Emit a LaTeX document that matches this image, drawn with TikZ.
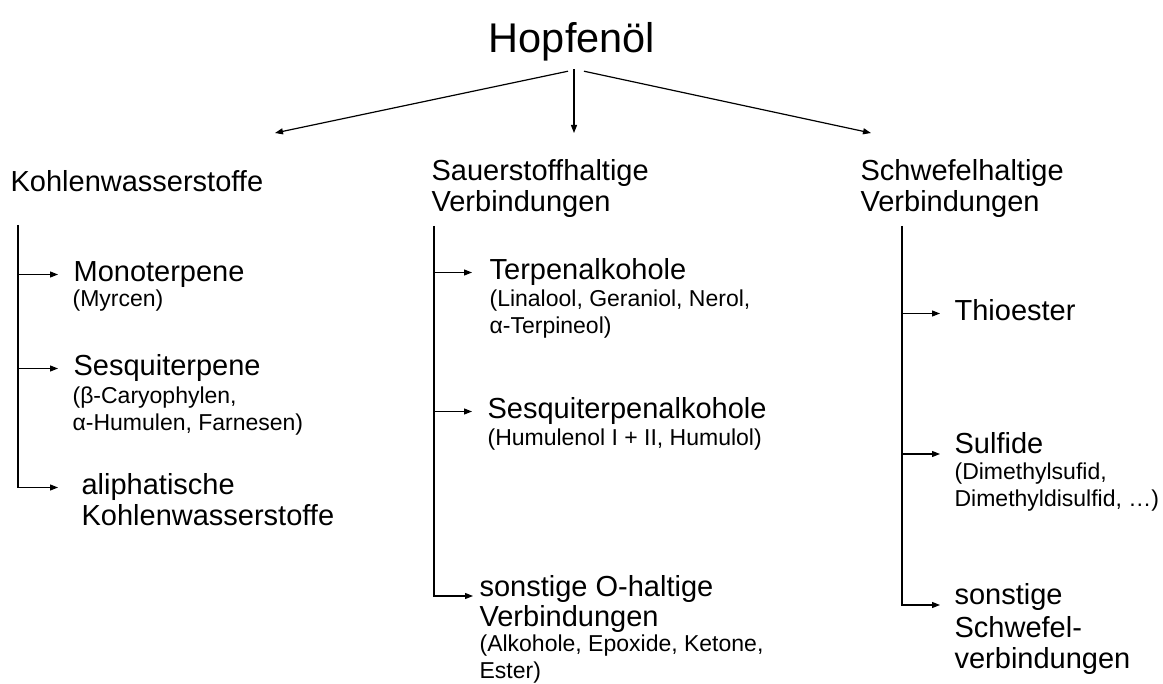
\documentclass[tikz,border=0pt]{standalone}
\usepackage{fontspec}
\setmainfont{Liberation Sans}
\usetikzlibrary{arrows.meta}

\begin{document}
\begin{tikzpicture}[x=1pt, y=-1pt, line width=1.2pt, >={Triangle[length=8pt,width=6pt]},
  title/.style={font=\fontsize{41.5}{48}\selectfont, anchor=base, inner xsep=0pt, inner ysep=7pt},
  head/.style={font=\fontsize{29}{31}\selectfont, inner sep=0pt, align=left},
  item/.style={font=\fontsize{29}{31}\selectfont, anchor=base west, inner ysep=0pt, inner xsep=15pt, text height=21pt, text depth=6pt},
  more/.style={font=\fontsize{29}{31}\selectfont, anchor=base west, inner sep=0pt},
  note/.style={font=\fontsize{23}{27}\selectfont, anchor=north west, inner sep=0pt, align=left}]
\useasboundingbox (0,0) rectangle (1163,684);

\node[title] (hopf) at (572,53) {Hopfenöl};
\coordinate (kwin) at (275,133);
\coordinate (soin) at (574,133);
\coordinate (swin) at (871,133);
\draw[->] ([xshift=-4pt,yshift=-2pt]hopf.south) -- (kwin);
\draw[->] ([xshift=2pt]hopf.south) -- (soin);
\draw[->] ([xshift=12pt,yshift=-2pt]hopf.south) -- (swin);

\node[head, anchor=base west] (kw) at (10,192) {Kohlenwasserstoffe};
\node[head, anchor=north west] (so) at (431,159) {Sauerstoffhaltige\\Verbindungen};
\node[head, anchor=north west] (sw) at (860,159) {Schwefelhaltige\\Verbindungen};

\coordinate (kt) at (18,225);
\coordinate (st) at (434,226);
\coordinate (wt) at (902,226);

\node[item] (mono) at (58,282) {Monoterpene};
\node[note] (monon) at (72,289) {(Myrcen)};
\node[item] (sesq) at (58,376) {Sesquiterpene};
\node[note] (sesqn) at (72,386) {(β-Caryophylen,\\α-Humulen, Farnesen)};
\node[item, inner xsep=23pt] (ali) at (58,495) {aliphatische};
\node[more] (ali2) at (81,526) {Kohlenwasserstoffe};
\draw[->] (mono.west -| kt) -- (mono.west);
\draw[->] (sesq.west -| kt) -- (sesq.west);
\draw[->] (kt) |- (ali.west);

\node[item, inner xsep=17pt] (terp) at (472,280) {Terpenalkohole};
\node[note] (terpn) at (489,289) {(Linalool, Geraniol, Nerol,\\α-Terpineol)};
\node[item] (sqa) at (472,419) {Sesquiterpenalkohole};
\node[note] (sqan) at (487,428) {(Humulenol I + II, Humulol)};
\node[item, inner xsep=6pt] (sono) at (473,596) {sonstige O-haltige};
\node[more] (sono2) at (479,626) {Verbindungen};
\node[note] (sonon) at (479,634) {(Alkohole, Epoxide, Ketone,\\Ester)};
\draw[->] (terp.west -| st) -- (terp.west);
\draw[->] (sqa.west -| st) -- (sqa.west);
\draw[->] (st) |- (sono.base west);

\node[item, inner xsep=14pt] (thio) at (940,321) {Thioester};
\node[item, inner xsep=14pt] (sulf) at (940,454) {Sulfide};
\node[note] (sulfn) at (954,462) {(Dimethylsufid,\\Dimethyldisulfid, …)};
\node[item, inner xsep=14pt] (sons) at (940,605) {sonstige};
\node[head, anchor=north west] (sons2) at (954,616) {Schwefel-\\verbindungen};
\draw[->] (thio.west -| wt) -- (thio.west);
\draw[->] (wt |- sulf.base west) -- (sulf.base west);
\draw[->] (wt) |- (sons.base west);
\end{tikzpicture}
\end{document}
